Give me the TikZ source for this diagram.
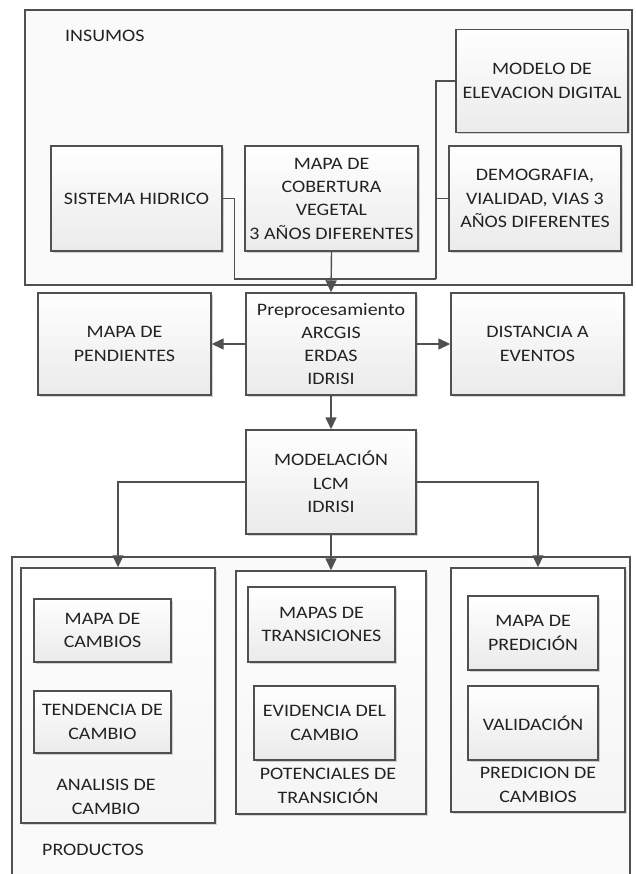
\documentclass[tikz,border=0pt]{standalone}
\usepackage{fontspec}
\setmainfont{Carlito}[FakeStretch=1.14]
\usetikzlibrary{arrows.meta,shadows}
\definecolor{ln}{HTML}{505050}
\definecolor{tx}{HTML}{222222}
\tikzset{
  base/.style={draw=ln, line width=1.4pt, rectangle, inner sep=2pt, align=center, text=tx,
    font=\fontsize{17.5}{23.3}\selectfont},
  box/.style={base, top color=white, bottom color=gray!16,
    drop shadow={shadow xshift=1.8pt, shadow yshift=-1.8pt, opacity=0.35}},
  group/.style={base, top color=white, bottom color=gray!8,
    drop shadow={shadow xshift=1.8pt, shadow yshift=-1.8pt, opacity=0.3}},
  outer/.style={base, fill=gray!4},
  lbl/.style={text=tx, font=\fontsize{17.5}{23.3}\selectfont, align=center, inner sep=0pt},
  conn/.style={draw=ln, line width=1.4pt},
  arr/.style={conn, -{Triangle[length=12pt,width=11pt]}}
}
\begin{document}
\begin{tikzpicture}[x=1pt,y=-1pt]
\useasboundingbox (0,0) rectangle (635,874);
% outer boxes
\node[outer, minimum width=607pt, minimum height=275pt] (ins) at (328.5,147.5) {};
\node[outer, minimum width=618pt, minimum height=319pt] (prod) at (321,716.5) {};
\node[lbl, anchor=west] (insl) at (65,36) {INSUMOS};
\node[lbl, anchor=west] (prodl) at (42,850) {PRODUCTOS};
% input boxes
\node[box, minimum width=172pt, minimum height=103pt] (modelo) at (542,81) {MODELO DE\\ELEVACION DIGITAL};
\node[box, minimum width=171pt, minimum height=105pt] (sist) at (136.5,198.5) {SISTEMA HIDRICO};
\node[box, minimum width=173pt, minimum height=105pt] (mapa) at (331.5,198.5) {MAPA DE\\COBERTURA\\VEGETAL\\3 AÑOS DIFERENTES};
\node[box, minimum width=172pt, minimum height=105pt] (demo) at (535,198.5) {DEMOGRAFIA,\\VIALIDAD, VIAS 3\\AÑOS DIFERENTES};
% processing
\node[box, minimum width=173pt, minimum height=102pt] (pend) at (124.5,344) {MAPA DE\\PENDIENTES};
\node[box, minimum width=170pt, minimum height=102pt] (pre) at (331,344) {Preprocesamiento\\ARCGIS\\ERDAS\\IDRISI};
\node[box, minimum width=173pt, minimum height=102pt] (dist) at (537.5,344) {DISTANCIA A\\EVENTOS};
\node[box, minimum width=170pt, minimum height=104pt] (mod) at (331,482) {MODELACIÓN\\LCM\\IDRISI};
% product groups
\node[group, minimum width=194pt, minimum height=255pt] (g1) at (118,695.5) {};
\node[group, minimum width=190pt, minimum height=243pt] (g2) at (331,692.5) {};
\node[group, minimum width=174pt, minimum height=244pt] (g3) at (538,690) {};
\node[box, minimum width=137pt, minimum height=63pt] (camb) at (102.5,630.5) {MAPA DE\\CAMBIOS};
\node[box, minimum width=137pt, minimum height=62pt] (tend) at (102.5,722) {TENDENCIA DE\\CAMBIO};
\node[box, minimum width=147pt, minimum height=75pt] (trans) at (321.5,624.5) {MAPAS DE\\TRANSICIONES};
\node[box, minimum width=141pt, minimum height=74pt] (evid) at (324.5,723) {EVIDENCIA DEL\\CAMBIO};
\node[box, minimum width=130pt, minimum height=74pt] (pred) at (533,633) {MAPA DE\\PREDICIÓN};
\node[box, minimum width=130pt, minimum height=74pt] (valid) at (533,723) {VALIDACIÓN};
\node[lbl] (g1l) at (106,797) {ANALISIS DE\\CAMBIO};
\node[lbl] (g2l) at (328,786) {POTENCIALES DE\\TRANSICIÓN};
\node[lbl] (g3l) at (538,785) {PREDICION DE\\CAMBIOS};
% connectors
\coordinate (j) at (436,279);
\draw[conn] (sist.east) -- ++(12,0) |- (j);
\draw[conn] (modelo.west) -| (j);
\draw[conn] (demo.west) -- (demo.west -| j);
\draw[arr] (mapa.south) -- (pre.north);
\draw[arr] (pre.west) -- (pend.east);
\draw[arr] (pre.east) -- (dist.west);
\draw[arr] (pre.south) -- (mod.north);
\draw[arr] (mod.west) -| (g1.north);
\draw[arr] (mod.south) -- (g2.north);
\draw[arr] (mod.east) -| (g3.north);
\end{tikzpicture}
\end{document}
